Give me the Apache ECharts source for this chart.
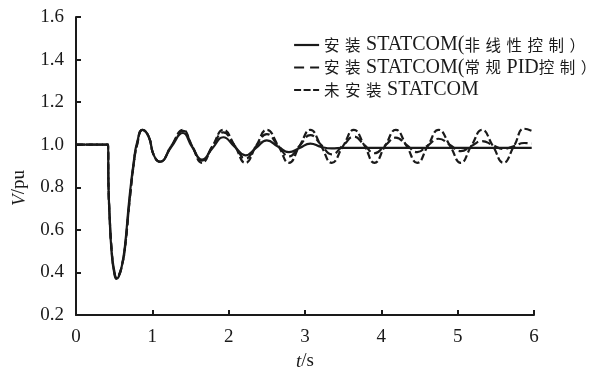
<!DOCTYPE html>
<html>
<head>
<meta charset="utf-8">
<script src="https://cdn.jsdelivr.net/npm/echarts@6/dist/echarts.min.js"></script>
<style>html,body{margin:0;padding:0;background:#fff;}#c{width:603px;height:373px;}</style>
</head>
<body>
<div id="c"></div>
<script>
var seriesNames = ['安装STATCOM(非线性控制）', '安装STATCOM(常规PID控制）', '未安装STATCOM'];
var xTicks = [0, 1, 2, 3, 4, 5, 6];
var yTicks = [0.2, 0.4, 0.6, 0.8, 1.0, 1.2, 1.4, 1.6];

var tTime = [0, 0.40, 0.42, 0.425, 0.44, 0.47, 0.50, 0.53, 0.56, 0.60, 0.64, 0.70, 0.76, 0.80, 0.87, 0.95, 1.02, 1.10,
  1.25, 1.40, 1.52, 1.65, 1.79, 1.93, 2.08, 2.22, 2.36, 2.50, 2.65, 2.79, 2.93, 3.07, 3.21, 3.35, 3.50, 3.64, 3.78,
  3.91, 4.05, 4.19, 4.33, 4.47, 4.61, 4.75, 4.90, 5.04, 5.18, 5.32, 5.46, 5.60, 5.74, 5.87, 5.97];

var vNonlinear = [1.0, 1.0, 1.0, 0.82, 0.66, 0.48, 0.40, 0.37, 0.38, 0.43, 0.52, 0.75, 0.93, 1.01, 1.07, 1.04, 0.95, 0.92,
  0.99, 1.055, 0.99, 0.93, 0.985, 1.035, 0.99, 0.95, 0.985, 1.02, 0.99, 0.965, 0.985, 1.005, 0.99, 0.983, 0.985, 0.985, 0.985,
  0.985, 0.985, 0.985, 0.985, 0.985, 0.985, 0.985, 0.985, 0.985, 0.985, 0.985, 0.985, 0.985, 0.985, 0.985, 0.985];

var vPID = [1.0, 1.0, 1.0, 0.82, 0.67, 0.49, 0.41, 0.375, 0.385, 0.43, 0.51, 0.73, 0.92, 1.00, 1.07, 1.04, 0.95, 0.92,
  0.995, 1.065, 0.995, 0.925, 0.993, 1.058, 0.995, 0.935, 0.993, 1.05, 0.995, 0.945, 0.995, 1.045, 1.0, 0.955, 0.997, 1.038, 0.998,
  0.96, 0.997, 1.033, 0.999, 0.965, 0.997, 1.028, 0.999, 0.97, 0.994, 1.017, 0.998, 0.98, 0.994, 1.008, 1.005];

var vNone = [1.0, 1.0, 1.0, 0.82, 0.67, 0.49, 0.41, 0.375, 0.385, 0.43, 0.51, 0.73, 0.92, 1.00, 1.07, 1.04, 0.95, 0.92,
  0.995, 1.07, 0.995, 0.915, 0.995, 1.07, 0.995, 0.915, 0.995, 1.07, 0.995, 0.915, 0.995, 1.07, 0.995, 0.915, 0.995, 1.07, 0.995,
  0.915, 0.995, 1.07, 0.995, 0.915, 0.995, 1.07, 0.995, 0.915, 0.995, 1.07, 0.995, 0.915, 0.995, 1.075, 1.065];

function pairs(v) { return tTime.map(function (t, i) { return [t, v[i]]; }); }

var serif = '"Liberation Serif", "Times New Roman", serif';
var cjk = '"Noto Sans CJK SC", sans-serif';
var ink = '#1a1a1a';

// split a legend name into CJK tokens (fixed-width cells) and Latin runs
function richName(name) {
  var out = '', latin = '';
  for (var i = 0; i < name.length; i++) {
    var ch = name.charAt(i);
    if (/[\u3000-\u9fff\uff00-\uffef]/.test(ch)) {
      if (latin) { out += '{l|' + latin + '}'; latin = ''; }
      out += '{c|' + ch + '}';
    } else {
      latin += ch;
    }
  }
  if (latin) out += '{l|' + latin + '}';
  return out;
}

var chart = echarts.init(document.getElementById('c'), null, { renderer: 'canvas' });
chart.setOption({
  backgroundColor: '#fff',
  animation: false,
  grid: { left: 76, right: 69, top: 17, bottom: 58, containLabel: false, outerBoundsMode: 'none' },
  legend: {
    orient: 'vertical', left: 293, top: 34, itemWidth: 25, itemHeight: 14, itemGap: 0.5, padding: 0,
    itemStyle: { opacity: 0 },
    formatter: richName,
    textStyle: {
      fontFamily: serif, fontSize: 20, color: ink, lineHeight: 22,
      rich: {
        l: { fontFamily: serif, fontSize: 20, color: ink, lineHeight: 22 },
        c: { fontFamily: cjk, fontSize: 15.5, color: ink, lineHeight: 22, width: 21, align: 'left' }
      }
    },
    data: [
      { name: seriesNames[0], itemStyle: { opacity: 0 }, lineStyle: { type: 'solid', width: 2.2 } },
      { name: seriesNames[1], itemStyle: { opacity: 0 }, lineStyle: { type: [10, 6], width: 2.2 } },
      { name: seriesNames[2], itemStyle: { opacity: 0 }, lineStyle: { type: [7, 2.5], width: 2.2 } }
    ]
  },
  xAxis: {
    type: 'value', min: xTicks[0], max: xTicks[xTicks.length - 1], interval: 1,
    name: '{i|t}/s', nameLocation: 'middle', nameGap: 37,
    nameTextStyle: { fontFamily: serif, fontSize: 19, color: ink, rich: { i: { fontStyle: 'italic', fontFamily: serif, fontSize: 19, color: ink } } },
    axisLine: { show: true, lineStyle: { color: ink, width: 2 } },
    axisTick: { show: true, inside: true, length: 5, lineStyle: { color: ink, width: 2 } },
    axisLabel: { fontFamily: serif, fontSize: 19, color: ink, margin: 13 },
    splitLine: { show: false }
  },
  yAxis: {
    type: 'value', min: yTicks[0], max: yTicks[yTicks.length - 1], interval: 0.2,
    name: '{i|V}/pu', nameLocation: 'middle', nameGap: 47,
    nameTextStyle: { fontFamily: serif, fontSize: 19, color: ink, padding: [0, 44, 0, 0], rich: { i: { fontStyle: 'italic', fontFamily: serif, fontSize: 19, color: ink } } },
    axisLine: { show: true, lineStyle: { color: ink, width: 2 } },
    axisTick: { show: true, inside: true, length: 5, lineStyle: { color: ink, width: 2 } },
    axisLabel: { fontFamily: serif, fontSize: 19, color: ink, margin: 12, formatter: function (v) { return v.toFixed(1); } },
    splitLine: { show: false }
  },
  series: [
    { name: seriesNames[2], type: 'line', data: pairs(vNone), symbol: 'none', smooth: 0.5, z: 2,
      lineStyle: { color: ink, width: 2.2, type: [7, 3] }, itemStyle: { color: ink } },
    { name: seriesNames[1], type: 'line', data: pairs(vPID), symbol: 'none', smooth: 0.5, z: 3,
      lineStyle: { color: ink, width: 2.2, type: [9, 4] }, itemStyle: { color: ink } },
    { name: seriesNames[0], type: 'line', data: pairs(vNonlinear), symbol: 'none', smooth: 0.5, z: 4,
      lineStyle: { color: ink, width: 2.2, type: 'solid' }, itemStyle: { color: ink } }
  ]
});
</script>
</body>
</html>
